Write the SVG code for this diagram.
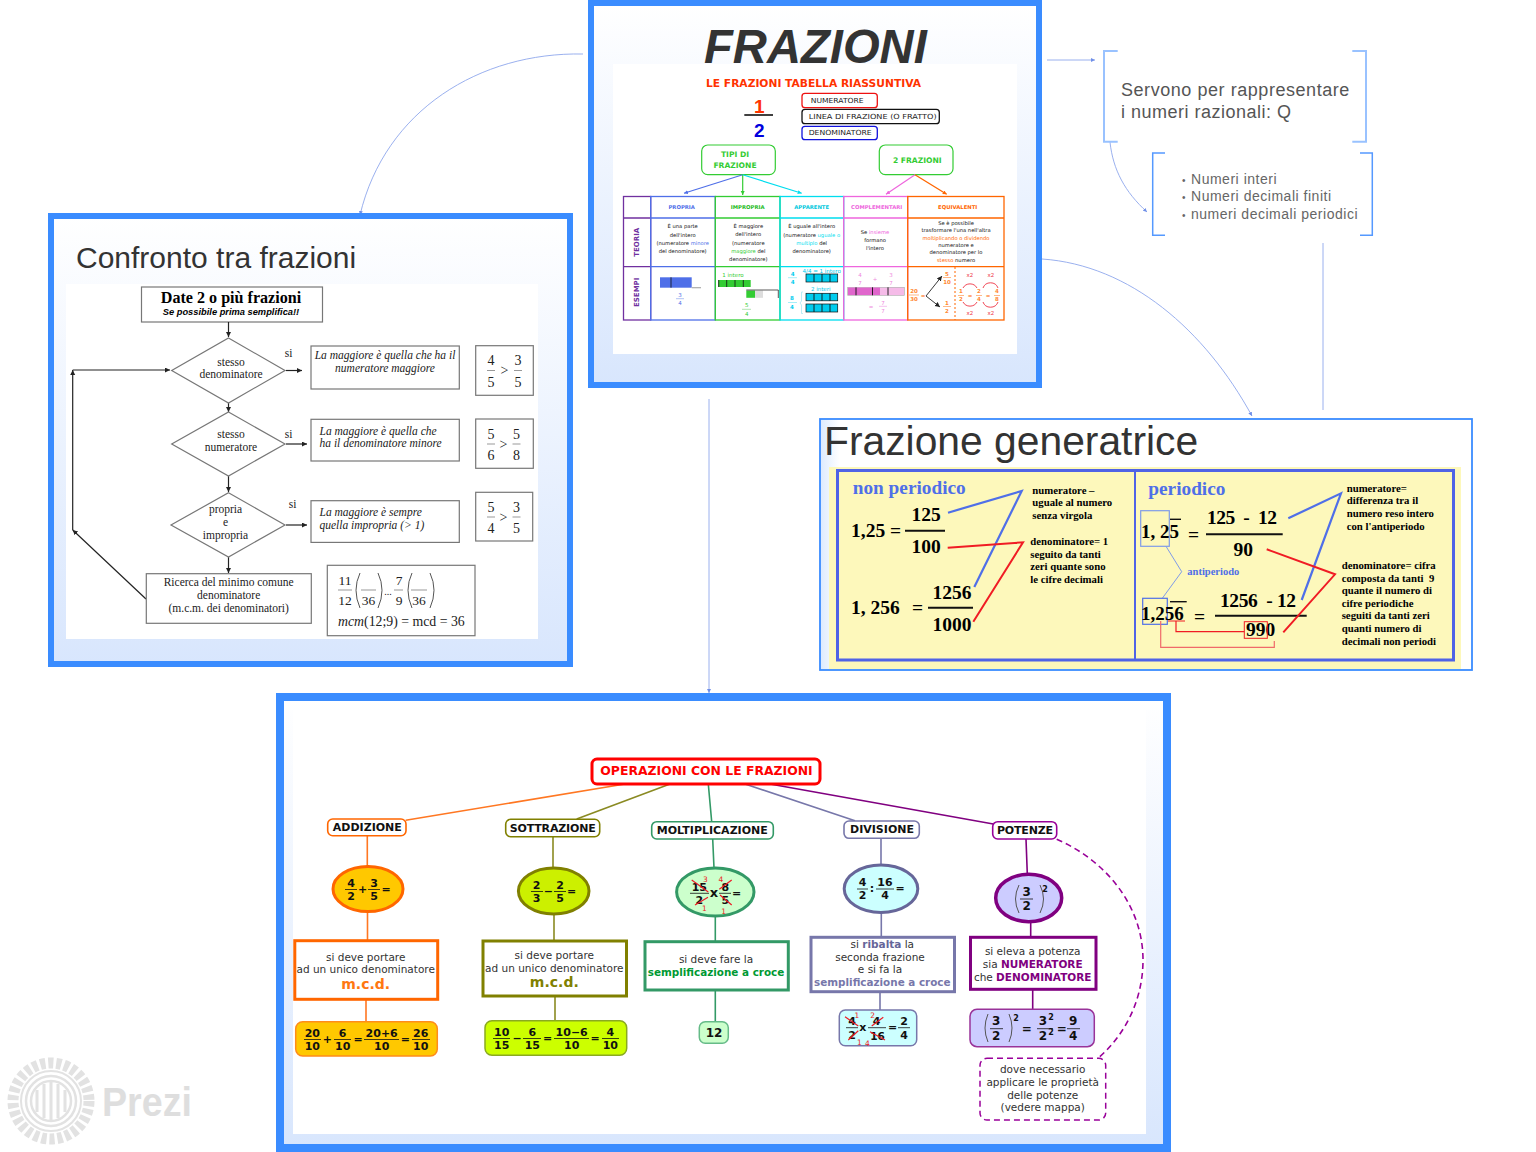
<svg xmlns="http://www.w3.org/2000/svg" width="1536" height="1152" viewBox="0 0 1536 1152">
<style>
text{font-family:"Liberation Sans",Arial,sans-serif;fill:#000}
.m{text-anchor:middle}
.frame{stroke:#3a8cff;stroke-width:6}
.s{font-family:"Liberation Serif","Times New Roman",serif}
.fc{font-family:"Liberation Serif","Times New Roman",serif;font-size:11.5px;fill:#222}
.fi{font-family:"Liberation Serif","Times New Roman",serif;font-size:11.5px;font-style:italic;fill:#222}
.fn{font-family:"Liberation Serif","Times New Roman",serif;font-size:14px;fill:#222;text-anchor:middle}
.box{fill:#fff;stroke:#777;stroke-width:1.2}
.fl{stroke:#222;stroke-width:1.2;fill:none}
.fr{stroke:#999;stroke-width:1;fill:none}
.gb{font-family:"Liberation Serif","Times New Roman",serif;font-weight:bold;font-size:19.5px}
.gc{font-family:"Liberation Serif","Times New Roman",serif;font-weight:bold;font-size:10.75px}
.gt{font-family:"Liberation Serif","Times New Roman",serif;font-weight:bold;fill:#4f6fe8}
.bl{stroke:#4f6fe8;stroke-width:2.2;fill:none}
.rd{stroke:#f01c24;stroke-width:2;fill:none}
.cm{font-family:"DejaVu Sans",Verdana,sans-serif;font-size:10.5px;fill:#333;text-anchor:middle}
.cb{font-family:"DejaVu Sans",Verdana,sans-serif;font-size:11px;font-weight:bold;fill:#111;text-anchor:middle}
.sm{font-size:10.4px}
.nt{font-family:"DejaVu Sans",Verdana,sans-serif;font-size:12.4px;font-weight:bold;fill:#111;text-anchor:middle}
.cx{stroke:#ee1c25;stroke-width:1.2;fill:none}
.rn{font-family:"DejaVu Sans",Verdana,sans-serif;font-size:7.5px;fill:#ee1c25;text-anchor:middle}
.node{fill:#fff;stroke-width:1.6}
.big{fill:#fff;stroke-width:3}
.fb{stroke:#111;stroke-width:.8}
.pr{stroke:#555;stroke-width:1;fill:none}
.t{font-family:"DejaVu Sans",Verdana,sans-serif;font-size:5.2px;fill:#111;text-anchor:middle}
.h{font-family:"DejaVu Sans",Verdana,sans-serif;font-size:5.3px;font-weight:bold;text-anchor:middle}
.ln{font-family:"DejaVu Sans",Verdana,sans-serif;font-size:7px;fill:#222}
.gr{font-family:"DejaVu Sans",Verdana,sans-serif;font-size:7.6px;font-weight:bold;fill:#33cc33;text-anchor:middle}
.v{font-family:"DejaVu Sans",Verdana,sans-serif;font-size:7px;font-weight:bold;fill:#7030a0}
.e{font-family:"DejaVu Sans",Verdana,sans-serif;font-size:5.5px;text-anchor:middle}
.tb{stroke-width:1.3;fill:none}
.dv{stroke:#111;stroke-width:.9}
.con{fill:none;stroke:#8fa7ec;stroke-width:.9}
.mp{fill:none;stroke-width:1.6}
</style>
<defs>
<linearGradient id="fg" x1="0" y1="0" x2="0" y2="1"><stop offset="0" stop-color="#fff"/><stop offset="1" stop-color="#d8e6fd"/></linearGradient>
<linearGradient id="fg2" x1="0" y1="0" x2="1" y2="0"><stop offset="0" stop-color="#dceafe"/><stop offset=".03" stop-color="#fff"/></linearGradient>
<marker id="a" markerWidth="5" markerHeight="4" refX="4" refY="2" orient="auto" markerUnits="userSpaceOnUse"><path d="M0 0L4 2L0 4z" fill="#6f8fe8"/></marker>
<marker id="k" markerWidth="6" markerHeight="6" refX="5" refY="2.5" orient="auto" markerUnits="userSpaceOnUse"><path d="M0 0L5 2.5L0 5z" fill="#222"/></marker>
<marker id="tb" markerWidth="5" markerHeight="5" refX="4" refY="2" orient="auto" markerUnits="userSpaceOnUse"><path d="M0 0L4 2L0 4z" fill="#4f6fe8"/></marker>
<marker id="tg" markerWidth="5" markerHeight="5" refX="4" refY="2" orient="auto" markerUnits="userSpaceOnUse"><path d="M0 0L4 2L0 4z" fill="#33cc33"/></marker>
<marker id="tc" markerWidth="5" markerHeight="5" refX="4" refY="2" orient="auto" markerUnits="userSpaceOnUse"><path d="M0 0L4 2L0 4z" fill="#00ddee"/></marker>
<marker id="tp" markerWidth="5" markerHeight="5" refX="4" refY="2" orient="auto" markerUnits="userSpaceOnUse"><path d="M0 0L4 2L0 4z" fill="#ee66dd"/></marker>
<marker id="to" markerWidth="5" markerHeight="5" refX="4" refY="2" orient="auto" markerUnits="userSpaceOnUse"><path d="M0 0L4 2L0 4z" fill="#ff6600"/></marker>
</defs>
<rect width="1536" height="1152" fill="#fff"/>

<g id="prezi-logo">
<circle cx="51" cy="1101" r="38" fill="none" stroke="#e2e2e2" stroke-width="11" stroke-dasharray="5.2 2.8"/>
<circle cx="51" cy="1101" r="30" fill="none" stroke="#e2e2e2" stroke-width="2"/>
<circle cx="51" cy="1101" r="25" fill="none" stroke="#e2e2e2" stroke-width="2.5"/>
<circle cx="51" cy="1101" r="20" fill="none" stroke="#e2e2e2" stroke-width="2.5"/>
<path d="M37 1090V1112M44 1084V1118M51 1082V1120M58 1084V1118M65 1090V1112" stroke="#e2e2e2" stroke-width="3" fill="none"/>
<text x="102" y="1115.5" font-size="41" font-weight="bold" style="fill:#dedede" textLength="90" lengthAdjust="spacingAndGlyphs">Prezi</text>
</g>

<g id="connectors">
<path class="con" d="M583 54C480 52 385 110 360 215" marker-end="url(#a)"/>
<path class="con" d="M1047 60H1095" marker-end="url(#a)"/>
<path class="con" d="M1110 142C1113 170 1125 192 1147 212" marker-end="url(#a)"/>
<path class="con" d="M1323 243V410"/>
<path class="con" d="M1042 259C1130 265 1205 330 1252 416" marker-end="url(#a)"/>
<path class="con" d="M788 361H711" marker-end="url(#a)"/>
<path class="con" d="M709 399V693" marker-end="url(#a)"/>
</g>

<g id="frazioni">
<rect class="frame" x="591" y="3" width="448" height="382" fill="url(#fg)"/>
<rect x="613" y="64" width="404" height="290" fill="#fff"/>
<text x="704" y="63" font-size="47.2" font-weight="bold" font-style="italic" style="fill:#333">FRAZIONI</text>
<text x="706" y="87.3" font-size="10.3" font-weight="bold" style="font-family:'DejaVu Sans',sans-serif;fill:#ff3300" textLength="215" lengthAdjust="spacingAndGlyphs">LE FRAZIONI TABELLA RIASSUNTIVA</text>
<text class="m" x="759.3" y="113" font-size="19" font-weight="bold" style="fill:#ff3300">1</text>
<path d="M744.3 115H773" stroke="#111" stroke-width="1.6"/>
<text class="m" x="759.3" y="137" font-size="19" font-weight="bold" style="fill:#0000dd">2</text>
<rect x="802" y="93.3" width="75.3" height="14.4" rx="3" fill="#fff" stroke="#ee1111" stroke-width="1.3"/>
<text class="ln" x="810.7" y="102.9" textLength="53" lengthAdjust="spacingAndGlyphs">NUMERATORE</text>
<rect x="802" y="109.3" width="137.3" height="14.4" rx="3" fill="#fff" stroke="#111" stroke-width="1.3"/>
<text class="ln" x="808.7" y="119" textLength="128" lengthAdjust="spacingAndGlyphs">LINEA DI FRAZIONE (O FRATTO)</text>
<rect x="802" y="126.3" width="75.3" height="13.4" rx="3" fill="#fff" stroke="#1111dd" stroke-width="1.3"/>
<text class="ln" x="808.7" y="135.2" textLength="63" lengthAdjust="spacingAndGlyphs">DENOMINATORE</text>
<rect x="701.7" y="145" width="73.6" height="29.7" rx="6" fill="#fff" stroke="#33cc33" stroke-width="1.2"/>
<text class="gr" x="735" y="157">TIPI DI</text>
<text class="gr" x="735" y="167.5">FRAZIONE</text>
<rect x="879.3" y="145" width="73.7" height="29.7" rx="6" fill="#fff" stroke="#33cc33" stroke-width="1.2"/>
<text class="gr" x="917.3" y="163">2 FRAZIONI</text>
<g fill="none" stroke-width="1.2">
<path d="M742.7 174.7L684 193.3" stroke="#4f6fe8" marker-end="url(#tb)"/>
<path d="M742.7 174.7V195" stroke="#33cc33" marker-end="url(#tg)"/>
<path d="M742.7 174.7L801.7 193.3" stroke="#00ddee" marker-end="url(#tc)"/>
<path d="M915 174.7L886 194.3" stroke="#ee66dd" marker-end="url(#tp)"/>
<path d="M915 174.7L946.7 194.3" stroke="#ff6600" marker-end="url(#to)"/>
</g>
<g class="tb">
<rect class="tb" x="623.5" y="196.5" width="27.2" height="123.5" stroke="#7030a0"/>
<path class="tb" d="M623.5 218H650.7M623.5 266.7H650.7" stroke="#7030a0"/>
<rect class="tb" x="650.7" y="196.5" width="64.6" height="123.5" stroke="#4f6fe8"/>
<path class="tb" d="M650.7 218H715.3M650.7 266.7H715.3" stroke="#4f6fe8"/>
<rect class="tb" x="715.3" y="196.5" width="64.7" height="123.5" stroke="#33cc33"/>
<path class="tb" d="M715.3 218H780M715.3 266.7H780" stroke="#33cc33"/>
<rect class="tb" x="780" y="196.5" width="63.7" height="123.5" stroke="#00ddee"/>
<path class="tb" d="M780 218H843.7M780 266.7H843.7" stroke="#00ddee"/>
<rect class="tb" x="843.7" y="196.5" width="64" height="123.5" stroke="#ee66dd"/>
<path class="tb" d="M843.7 218H907.7M843.7 266.7H907.7" stroke="#ee66dd"/>
<rect class="tb" x="907.7" y="196.5" width="96.3" height="123.5" stroke="#ff6600"/>
<path class="tb" d="M907.7 218H1004M907.7 266.7H1004" stroke="#ff6600"/>
</g>
<text class="h" x="681.7" y="209" style="fill:#4f6fe8">PROPRIA</text>
<text class="h" x="747.7" y="209" style="fill:#22bb22">IMPROPRIA</text>
<text class="h" x="811.7" y="209" style="fill:#00c8dd">APPARENTE</text>
<text class="h" x="876.7" y="209" style="fill:#ee66dd">COMPLEMENTARI</text>
<text class="h" x="957.7" y="209" style="fill:#ff6600">EQUIVALENTI</text>
<text class="v m" transform="translate(639 242.3) rotate(-90)">TEORIA</text>
<text class="v m" transform="translate(639 292.3) rotate(-90)">ESEMPI</text>
<text class="t" x="682.7" y="228">È una parte</text>
<text class="t" x="682.7" y="236.5">dell'intero</text>
<text class="t" x="682.7" y="245">(numeratore <tspan style="fill:#4f6fe8">minore</tspan></text>
<text class="t" x="682.7" y="252.5">del denominatore)</text>
<text class="t" x="748.3" y="228">È maggiore</text>
<text class="t" x="748.3" y="236">dell'intero</text>
<text class="t" x="748.3" y="245">(numeratore</text>
<text class="t" x="748.3" y="253"><tspan style="fill:#33cc33">maggiore</tspan> del</text>
<text class="t" x="748.3" y="260.5">denominatore)</text>
<text class="t" x="811.7" y="228">È uguale all'intero</text>
<text class="t" x="811.7" y="236.5">(numeratore <tspan style="fill:#00ddee">uguale o</tspan></text>
<text class="t" x="811.7" y="244.5"><tspan style="fill:#00ddee">multiplo</tspan> del</text>
<text class="t" x="811.7" y="252.5">denominatore)</text>
<text class="t" x="875" y="233.5">Se <tspan style="fill:#ee66dd">insieme</tspan></text>
<text class="t" x="875" y="241.5">formano</text>
<text class="t" x="875" y="249.5">l'intero</text>
<text class="t" x="956" y="225">Se è possibile</text>
<text class="t" x="956" y="232.3">trasformare l'una nell'altra</text>
<text class="t" x="956" y="240"><tspan style="fill:#ff6600">moltiplicando o dividendo</tspan></text>
<text class="t" x="956" y="246.7">numeratore e</text>
<text class="t" x="956" y="254.3">denominatore per lo</text>
<text class="t" x="956" y="261.7"><tspan style="fill:#ff6600">stesso</tspan> numero</text>

<rect x="660" y="277.3" width="31.7" height="10.4" fill="#4f6fe8"/>
<path d="M671 277.3V287.7" stroke="#111" stroke-width=".8"/>
<path d="M691.7 287.7H701" stroke="#aaa" stroke-width="1.2"/>
<text class="e" x="680" y="297" style="fill:#4f6fe8">3</text>
<path d="M676 298.7H684" stroke="#8fa8ee" stroke-width=".7"/>
<text class="e" x="680" y="305" style="fill:#4f6fe8">4</text>

<text class="e" x="733" y="276.7" style="fill:#33cc33">1 intero</text>
<rect x="718.3" y="280" width="32.4" height="7" fill="#33cc33"/>
<path d="M718.7 280V287M726.7 280V287M735 280V287M743.3 280V287" stroke="#111" stroke-width=".8"/>
<rect x="746.3" y="290.5" width="8.7" height="7.3" fill="#33cc33"/>
<rect x="755" y="290.5" width="8" height="7.3" fill="#ddd"/>
<path d="M746.3 290H778.3V298" stroke="#111" stroke-width=".7" fill="none"/>
<text class="e" x="746.7" y="307.3" style="fill:#33cc33">5</text>
<path d="M742 309.3H751" stroke="#8fd98f" stroke-width=".7"/>
<text class="e" x="746.7" y="315.5" style="fill:#33cc33">4</text>

<text class="e" x="792.7" y="276" style="fill:#00ccee;font-weight:bold">4</text>
<path d="M788 277.7H797" stroke="#7fe6f5" stroke-width=".7"/>
<text class="e" x="792.7" y="284" style="fill:#00ccee;font-weight:bold">4</text>
<text class="e" x="821.7" y="272.7" style="fill:#00ccee">4/4 = 1 intero</text>
<rect x="806" y="274" width="31.7" height="8" fill="#00ccee" stroke="#111" stroke-width=".7"/>
<path class="dv" d="M814 274V282M822 274V282M830 274V282"/>
<text class="e" x="820.7" y="291" style="fill:#00ccee">2 interi</text>
<rect x="806" y="293.3" width="31.7" height="7.5" fill="#00ccee" stroke="#111" stroke-width=".7"/>
<path class="dv" d="M814 293.3V300.8M822 293.3V300.8M830 293.3V300.8"/>
<rect x="806" y="304" width="31.7" height="8" fill="#00ccee" stroke="#111" stroke-width=".7"/>
<path class="dv" d="M814 304V312M822 304V312M830 304V312"/>
<text class="e" x="792" y="300" style="fill:#00ccee;font-weight:bold">8</text>
<path d="M788 302.5H797" stroke="#7fe6f5" stroke-width=".7"/>
<text class="e" x="792" y="308.5" style="fill:#00ccee;font-weight:bold">4</text>
<path d="M803 292H801.5V301L800 303L801.5 305V313.5H803" fill="none" stroke="#a8e8f4" stroke-width=".8"/>

<text class="e" x="860" y="277" style="fill:#ee88dd">4</text>
<text class="e" x="860" y="285" style="fill:#ee88dd">7</text>
<text class="e" x="875" y="281" style="fill:#ee88dd">+</text>
<text class="e" x="891" y="277" style="fill:#ee88dd">3</text>
<text class="e" x="891" y="285" style="fill:#ee88dd">7</text>
<rect x="847.7" y="287.3" width="56.6" height="8" fill="#f5bbe8" stroke="#aaa" stroke-width=".6"/>
<rect x="848" y="287.6" width="32" height="7.4" fill="#e066cc"/>
<path class="dv" d="M856 287.3V295.3M872.5 287.3V295.3M888 287.3V295.3"/>
<text class="e" x="871" y="309" style="fill:#ee88dd">=</text>
<text class="e" x="883" y="305" style="fill:#ee88dd">7</text>
<path d="M879 306.3H887" stroke="#f0a8e8" stroke-width=".7"/>
<text class="e" x="883" y="312.5" style="fill:#ee88dd">7</text>

<text class="e" x="914" y="293" style="fill:#ff8833;font-weight:bold">20</text>
<path d="M909 295H919" stroke="#ff9955" stroke-width=".7"/>
<text class="e" x="914" y="301" style="fill:#ff8833;font-weight:bold">30</text>
<text class="e" x="923" y="298" style="fill:#ff6600">=</text>
<path d="M926 296L942 276" stroke="#222" stroke-width=".9" fill="none" marker-end="url(#k)"/>
<path d="M926 296L940 307" stroke="#222" stroke-width=".9" fill="none" marker-end="url(#k)"/>
<text class="e" x="947" y="276" style="fill:#ff8833;font-weight:bold">5</text>
<path d="M943 277.5H951" stroke="#ff9955" stroke-width=".7"/>
<text class="e" x="947" y="284" style="fill:#ff8833;font-weight:bold">10</text>
<text class="e" x="947" y="305" style="fill:#ff8833;font-weight:bold">1</text>
<path d="M943 306.5H951" stroke="#ff9955" stroke-width=".7"/>
<text class="e" x="947" y="313" style="fill:#ff8833;font-weight:bold">2</text>
<path d="M955 267V320" stroke="#ff6600" stroke-width="1" stroke-dasharray="2 2" fill="none"/>
<text class="e" x="961" y="293" style="fill:#ff8833;font-weight:bold">1</text>
<path d="M958 295.5H964" stroke="#ff9955" stroke-width=".7"/>
<text class="e" x="961" y="301" style="fill:#ff8833;font-weight:bold">2</text>
<text class="e" x="970" y="298" style="fill:#ff6600">=</text>
<text class="e" x="979" y="293" style="fill:#ff8833;font-weight:bold">2</text>
<path d="M976 295.5H982" stroke="#ff9955" stroke-width=".7"/>
<text class="e" x="979" y="301" style="fill:#ff8833;font-weight:bold">4</text>
<text class="e" x="988" y="298" style="fill:#ff6600">=</text>
<text class="e" x="997" y="293" style="fill:#ff8833;font-weight:bold">4</text>
<path d="M994 295.5H1000" stroke="#ff9955" stroke-width=".7"/>
<text class="e" x="997" y="301" style="fill:#ff8833;font-weight:bold">8</text>
<text class="e" x="970" y="277" style="fill:#ee3344">x2</text>
<text class="e" x="991" y="277" style="fill:#ee3344">x2</text>
<text class="e" x="970" y="315" style="fill:#ee3344">x2</text>
<text class="e" x="991" y="315" style="fill:#ee3344">x2</text>
<path d="M963 288A8 8 0 0 1 977 288M983 288A8 8 0 0 1 998 288M963 302A8 8 0 0 0 977 302M983 302A8 8 0 0 0 998 302" fill="none" stroke="#ee3344" stroke-width=".9"/>
</g>

<g id="servono">
<path d="M1117.7 51H1104V141.7H1117.7M1352.3 51H1366V141.7H1352.3" fill="none" stroke="#99c2ff" stroke-width="2"/>
<text x="1121" y="96.2" font-size="18" letter-spacing=".55" style="fill:#555">Servono per rappresentare</text>
<text x="1121" y="118" font-size="18" letter-spacing=".5" style="fill:#555">i numeri razionali: Q</text>
</g>
<g id="numeri">
<path d="M1165 153H1152.7V235.3H1165M1360 153H1372.3V235.3H1360" fill="none" stroke="#5599ff" stroke-width="1.5"/>
<g font-size="14" letter-spacing=".52">
<text x="1182" y="184" font-size="10" style="fill:#666">•</text><text x="1191" y="184" style="fill:#666">Numeri interi</text>
<text x="1182" y="201.3" font-size="10" style="fill:#666">•</text><text x="1191" y="201.3" style="fill:#666">Numeri decimali finiti</text>
<text x="1182" y="219" font-size="10" style="fill:#666">•</text><text x="1191" y="219" style="fill:#666">numeri decimali periodici</text>
</g>
</g>

<g id="confronto">
<rect class="frame" x="51" y="216" width="519" height="448" fill="url(#fg)"/>
<rect x="66" y="284" width="472" height="355" fill="#fff"/>
<text x="76" y="268" font-size="30" style="fill:#333">Confronto tra frazioni</text>
<rect class="box" x="141.5" y="287" width="181" height="35"/>
<text class="m s" x="231" y="303" font-size="16.1" font-weight="bold">Date 2 o più frazioni</text>
<text class="m" x="231" y="315" font-size="9.3" font-weight="bold" font-style="italic">Se possibile prima semplifica!!</text>
<g class="fl">
<path class="fl" d="M228.5 322V337" marker-end="url(#k)"/>
<path class="fl" d="M228.5 403V412" marker-end="url(#k)"/>
<path class="fl" d="M228.5 476V492" marker-end="url(#k)"/>
<path class="fl" d="M228.5 557V573" marker-end="url(#k)"/>
<path class="fl" d="M286 370.5H302" marker-end="url(#k)"/>
<path class="fl" d="M286 444H307" marker-end="url(#k)"/>
<path class="fl" d="M286 525H307" marker-end="url(#k)"/>
<path class="fl" d="M146 599L72.7 530" marker-end="url(#k)"/>
<path class="fl" d="M72.7 530V370" marker-end="url(#k)"/>
<path class="fl" d="M72.7 370H170" marker-end="url(#k)"/>
</g>
<path class="box" d="M228.5 338L285 370.5L228.5 403L171.7 370.5Z"/>
<path class="box" d="M228.5 412L285 444L228.5 476L171.7 444Z"/>
<path class="box" d="M228.5 492.7L285 525L228.5 557L171 525Z"/>
<text class="fc m" x="231" y="365.5">stesso</text>
<text class="fc m" x="231" y="378">denominatore</text>
<text class="fc m" x="231" y="438">stesso</text>
<text class="fc m" x="231" y="451">numeratore</text>
<text class="fc m" x="225.5" y="512.5">propria</text>
<text class="fc m" x="225.5" y="525.5">e</text>
<text class="fc m" x="225.5" y="538.5">impropria</text>
<text class="fc m" x="288.5" y="357">si</text>
<text class="fc m" x="288.5" y="438">si</text>
<text class="fc m" x="292.5" y="508">si</text>
<rect class="box" x="311" y="346" width="148.3" height="43"/>
<text class="fi m" x="385" y="358.5">La maggiore è quella che ha il</text>
<text class="fi m" x="385" y="371.5">numeratore maggiore</text>
<rect class="box" x="311" y="419.3" width="148.3" height="41.7"/>
<text class="fi" x="319.5" y="434.5">La maggiore è quella che</text>
<text class="fi" x="319.5" y="447">ha il denominatore minore</text>
<rect class="box" x="311" y="500.7" width="148.3" height="41.7"/>
<text class="fi" x="319.5" y="516">La maggiore è sempre</text>
<text class="fi" x="319.5" y="528.5">quella impropria (&gt; 1)</text>
<rect class="box" x="475.7" y="345.7" width="57.6" height="49.6"/>
<text class="fn" x="491" y="365">4</text><text class="fn" x="491" y="386.5">5</text><text class="fn" x="504.5" y="375">&gt;</text><text class="fn" x="518" y="365">3</text><text class="fn" x="518" y="386.5">5</text>
<path class="fr" d="M487 370.5H495M514 370.5H522"/>
<rect class="box" x="475.7" y="419" width="57.6" height="49.3"/>
<text class="fn" x="491" y="438.5">5</text><text class="fn" x="491" y="460">6</text><text class="fn" x="503.5" y="449">&gt;</text><text class="fn" x="516.5" y="438.5">5</text><text class="fn" x="516.5" y="460">8</text>
<path class="fr" d="M487 444H495M512.5 444H520.5"/>
<rect class="box" x="475.7" y="492.3" width="57" height="48.7"/>
<text class="fn" x="491" y="512">5</text><text class="fn" x="491" y="532.5">4</text><text class="fn" x="503.5" y="522">&gt;</text><text class="fn" x="516.5" y="512">3</text><text class="fn" x="516.5" y="532.5">5</text>
<path class="fr" d="M487 517H495M512.5 517H520.5"/>
<rect class="box" x="146.3" y="573.7" width="165" height="49.6"/>
<text class="fc m" x="228.7" y="586">Ricerca del minimo comune</text>
<text class="fc m" x="228.7" y="599">denominatore</text>
<text class="fc m" x="228.7" y="612">(m.c.m. dei denominatori)</text>
<rect class="box" x="327.3" y="565.3" width="147.7" height="70.4"/>
<text class="fn" x="345" y="585" style="font-size:13.5px">11</text><text class="fn" x="345" y="605" style="font-size:13.5px">12</text>
<path class="fr" d="M338 590H352M361 590H376M411 590H427M394 590H403"/>
<text class="fn" x="368.5" y="605" style="font-size:13.5px">36</text>
<text class="fn" x="388" y="595" style="font-size:10px">...</text>
<text class="fn" x="399" y="585" style="font-size:13.5px">7</text><text class="fn" x="399" y="605" style="font-size:13.5px">9</text>
<text class="fn" x="419" y="605" style="font-size:13.5px">36</text>
<path class="pr" d="M360 573Q352 590 360 608M378 573Q386 590 378 608M412 573Q404 590 412 608M430 573Q438 590 430 608"/>
<text class="s" x="338" y="625.5" font-size="13.8" style="fill:#222"><tspan font-style="italic">mcm</tspan>(12;9) = mcd = 36</text>
</g>

<g id="generatrice">
<rect x="820" y="419" width="652" height="251" fill="url(#fg2)" stroke="#3a8cff" stroke-width="1.8"/>
<text x="824" y="455" font-size="40.8" style="fill:#333">Frazione generatrice</text>
<rect x="829" y="467" width="632" height="202" fill="#fdf8bb"/>
<rect x="837.5" y="470.5" width="616" height="189.5" fill="none" stroke="#4f63e6" stroke-width="3"/>
<path d="M1135 470V660" stroke="#4f63e6" stroke-width="2"/>
<text class="gt" x="852.7" y="494" font-size="19.3">non periodico</text>
<text class="gb" x="851" y="537">1,25 =</text>
<text class="gb m" x="926" y="521">125</text>
<path d="M905 530.7H945" stroke="#111" stroke-width="2"/>
<text class="gb m" x="926" y="552.7">100</text>
<text class="gb" x="851" y="613.5">1, 256</text>
<text class="gb" x="912" y="613.5">=</text>
<text class="gb m" x="952" y="598.5">1256</text>
<path d="M928 607.7H973" stroke="#111" stroke-width="2"/>
<text class="gb m" x="952" y="630.5">1000</text>
<path class="bl" d="M948 512.7L1021.7 491L974.3 587"/>
<path class="rd" d="M947.7 547.7L1023 542.3L973.3 621.7"/>
<text class="gc" x="1032.3" y="493.5">numeratore –</text>
<text class="gc" x="1032.3" y="506">uguale al numero</text>
<text class="gc" x="1032.3" y="518.5">senza virgola</text>
<text class="gc" x="1030.3" y="545">denominatore= 1</text>
<text class="gc" x="1030.3" y="557.7">seguito da tanti</text>
<text class="gc" x="1030.3" y="570">zeri quante sono</text>
<text class="gc" x="1030.3" y="582.5">le cifre decimali</text>

<text class="gt" x="1148.3" y="494.5" font-size="19.3">periodico</text>
<rect x="1140.7" y="510.7" width="28.6" height="35.6" fill="none" stroke="#7f9be8" stroke-width="1.2"/>
<text class="gb" x="1141" y="537.5" style="font-size:19px">1, 25</text>
<path d="M1170 519.3H1181" stroke="#111" stroke-width="1.4"/>
<text class="gb" x="1188" y="541">=</text>
<text class="gb" x="1207" y="524" xml:space="preserve" textLength="70">125  -  12</text>
<path d="M1206 534.3H1282.7" stroke="#111" stroke-width="2"/>
<text class="gb m" x="1243.3" y="556">90</text>
<text class="gt" x="1187.3" y="574.5" font-size="10.5">antiperiodo</text>
<path d="M1166 546.3L1181.7 571.7L1162.3 598.3" fill="none" stroke="#7f9be8" stroke-width="1"/>
<rect x="1142.7" y="598.3" width="24.6" height="26" fill="none" stroke="#4f6fe8" stroke-width="1.2"/>
<text class="gb" x="1141" y="619.5" style="font-size:19px">1,256</text>
<path d="M1170 601.7H1186.7" stroke="#111" stroke-width="1.4"/>
<text class="gb" x="1194" y="622.5">=</text>
<text class="gb" x="1220" y="606.5" xml:space="preserve" textLength="76">1256  - 12</text>
<path d="M1215 615.7H1306.7" stroke="#111" stroke-width="2"/>
<text class="gb" x="1246" y="635.5">990</text>
<rect x="1244.3" y="621.7" width="23" height="16.6" fill="none" stroke="#f01c24" stroke-width="1"/>
<path d="M1168 621H1185M1176 621V631.7H1244.3" fill="none" stroke="#f01c24" stroke-width="1.2"/>
<path d="M1160.7 621V647.3H1274.3V641" fill="none" stroke="#f06a6a" stroke-width="1.2"/>
<path class="bl" d="M1288.3 518.3L1341 493.3L1301.7 600"/>
<path class="rd" d="M1266.7 549.3L1335 574.3L1283.3 632.3"/>
<text class="gc" x="1346.7" y="492">numeratore=</text>
<text class="gc" x="1346.7" y="504.3">differenza tra il</text>
<text class="gc" x="1346.7" y="517">numero reso intero</text>
<text class="gc" x="1346.7" y="529.5">con l'antiperiodo</text>
<text class="gc" x="1341.7" y="568.5">denominatore= cifra</text>
<text class="gc" x="1341.7" y="581.5" xml:space="preserve">composta da tanti  9</text>
<text class="gc" x="1341.7" y="594">quante il numero di</text>
<text class="gc" x="1341.7" y="606.7">cifre periodiche</text>
<text class="gc" x="1341.7" y="619.3">seguiti da tanti zeri</text>
<text class="gc" x="1341.7" y="632">quanti numero di</text>
<text class="gc" x="1341.7" y="645">decimali non periodi</text>
</g>

<g id="operazioni-frame">
<rect x="280" y="697" width="887" height="451" fill="url(#fg)" stroke="#3a8cff" stroke-width="8"/>
<rect x="293" y="710" width="853" height="424" fill="#fff"/>
</g>
<g id="map-connectors">
<path class="mp" d="M625 784L405.7 820.3M367.3 835.7V866M367.5 912V940.7M366 999V1021.7" stroke="#ff7722"/>
<path class="mp" d="M670 784L576.7 819M553 836.7V867M554 913V941M555 996V1020.7" stroke="#8a8a22"/>
<path class="mp" d="M708.3 784L711.7 821.7M712.7 839L714 868M715.3 916V941.7M715.3 990V1021.7" stroke="#339966"/>
<path class="mp" d="M745 784L855 820.7M881 838V865M881.3 912V937.3M880 991.7V1010" stroke="#7777aa"/>
<path class="mp" d="M770 784L993.3 824M1026 839L1027.3 874M1030.7 921.7V937.3M1032.7 989.3V1010" stroke="#800080"/>
<path class="mp" d="M1056.7 839.3C1105 860 1143 905 1143 960C1143 1000 1125 1035 1098 1058.3" stroke="#990099" stroke-dasharray="6 4"/>
</g>
<g id="root"><rect x="592" y="759" width="228" height="25" rx="5" fill="#fff" stroke="#ff0000" stroke-width="3"/><text class="nt" x="706.5" y="775.3" style="fill:#ff0000">OPERAZIONI CON LE FRAZIONI</text></g>

<g id="addizione">
<rect class="node" x="327.7" y="819" width="78.3" height="16.7" rx="5" stroke="#ff6600"/><text class="cb" x="367.3" y="831">ADDIZIONE</text>
<ellipse cx="368" cy="889" rx="35" ry="22.5" fill="#ffc800" stroke="#ff6600" stroke-width="3"/>
<text class="cb" x="351" y="886.5">4</text><text class="cb" x="351" y="899.5">2</text><path class="fb" d="M345 889.5H357"/>
<text class="cb" x="362.7" y="892.5">+</text>
<text class="cb" x="374" y="886.5">3</text><text class="cb" x="374" y="899.5">5</text><path class="fb" d="M368 889.5H380"/>
<text class="cb" x="386" y="892.5">=</text>
<rect class="big" x="294.8" y="940.7" width="142.9" height="58.6" stroke="#ff6600"/>
<text class="cm" x="365.7" y="960.5">si deve portare</text>
<text class="cm" x="365.7" y="973">ad un unico denominatore</text>
<text class="cb" x="365.7" y="988.5" style="font-size:14px;fill:#ff7711">m.c.d.</text>
<rect x="295.7" y="1021.7" width="141.6" height="34.3" rx="7" fill="#ffc800" stroke="#ff8c1a" stroke-width="1.5"/>
<text class="cb" x="312.3" y="1036.5">20</text><text class="cb" x="312.3" y="1049.5">10</text><path class="fb" d="M304 1039.5H321"/>
<text class="cb" x="327.3" y="1042.5">+</text>
<text class="cb" x="342.7" y="1036.5">6</text><text class="cb" x="342.7" y="1049.5">10</text><path class="fb" d="M334 1039.5H351"/>
<text class="cb" x="358" y="1042.5">=</text>
<text class="cb" x="381.7" y="1036.5">20+6</text><text class="cb" x="381.7" y="1049.5">10</text><path class="fb" d="M364 1039.5H399"/>
<text class="cb" x="405.3" y="1042.5">=</text>
<text class="cb" x="420.7" y="1036.5">26</text><text class="cb" x="420.7" y="1049.5">10</text><path class="fb" d="M412 1039.5H430"/>
</g>

<g id="sottrazione">
<rect class="node" x="505.7" y="819.3" width="94" height="17.4" rx="5" stroke="#808000"/><text class="cb" x="552.7" y="832" textLength="86">SOTTRAZIONE</text>
<ellipse cx="553.7" cy="891" rx="35.3" ry="23" fill="#ccf000" stroke="#808000" stroke-width="3"/>
<text class="cb" x="536.7" y="888.5">2</text><text class="cb" x="536.7" y="901.5">3</text><path class="fb" d="M531 891.5H543"/>
<text class="cb" x="548.3" y="894.5">−</text>
<text class="cb" x="560" y="888.5">2</text><text class="cb" x="560" y="901.5">5</text><path class="fb" d="M554 891.5H566"/>
<text class="cb" x="571.7" y="894.5">=</text>
<rect class="big" x="483" y="941" width="143.5" height="55" stroke="#808000"/>
<text class="cm" x="554.3" y="959">si deve portare</text>
<text class="cm" x="554.3" y="971.5">ad un unico denominatore</text>
<text class="cb" x="554.3" y="987" style="font-size:14px;fill:#808000">m.c.d.</text>
<rect x="485" y="1020.7" width="141.7" height="34.6" rx="7" fill="#ccff00" stroke="#8aaa20" stroke-width="1.5"/>
<text class="cb" x="501.7" y="1035.5">10</text><text class="cb" x="501.7" y="1048.5">15</text><path class="fb" d="M493 1038.5H510"/>
<text class="cb" x="517" y="1041.5">−</text>
<text class="cb" x="532.3" y="1035.5">6</text><text class="cb" x="532.3" y="1048.5">15</text><path class="fb" d="M523 1038.5H541"/>
<text class="cb" x="547.7" y="1041.5">=</text>
<text class="cb" x="571.7" y="1035.5">10−6</text><text class="cb" x="571.7" y="1048.5">10</text><path class="fb" d="M554 1038.5H589"/>
<text class="cb" x="595" y="1041.5">=</text>
<text class="cb" x="610.3" y="1035.5">4</text><text class="cb" x="610.3" y="1048.5">10</text><path class="fb" d="M602 1038.5H619"/>
</g>

<g id="moltiplicazione">
<rect class="node" x="651.7" y="821.7" width="121.6" height="17.3" rx="5" stroke="#339966"/><text class="cb" x="712.3" y="834">MOLTIPLICAZIONE</text>
<ellipse cx="715.3" cy="892" rx="38.7" ry="24" fill="#ccffcc" stroke="#339966" stroke-width="3"/>
<text class="cb" x="699.3" y="891">15</text><text class="cb" x="699.3" y="903.5">2</text><path class="fb" d="M690 893.3H709"/>
<text class="cb" x="714" y="896.5" style="font-size:13px">x</text>
<text class="cb" x="725.3" y="891">8</text><text class="cb" x="725.3" y="903.5">5</text><path class="fb" d="M719 893.3H731"/>
<text class="cb" x="736.7" y="896.5">=</text>
<path class="cx" d="M691.7 880L708.3 892M695 905L708 897.3M719.3 889.3L731.7 880M720 895L731.7 905"/>
<text class="rn" x="705.5" y="881.5">3</text><text class="rn" x="721" y="881.5">4</text><text class="rn" x="704.3" y="911">1</text><text class="rn" x="723.7" y="913.5">1</text>
<rect class="big" x="645" y="941.7" width="143.3" height="48.3" stroke="#339966"/>
<text class="cm" x="716" y="962.5">si deve fare la</text>
<text class="cb sm" x="716" y="975.5" style="fill:#009933">semplificazione a croce</text>
<rect x="699.3" y="1021.7" width="29" height="21.6" rx="6" fill="#ccffcc" stroke="#66bb88" stroke-width="1.5"/>
<text class="cb" x="714" y="1036.7" style="font-size:12px">12</text>
</g>

<g id="divisione">
<rect class="node" x="844" y="821" width="75.3" height="17.3" rx="5" stroke="#7777aa"/><text class="cb" x="882" y="833.3">DIVISIONE</text>
<ellipse cx="881" cy="888.7" rx="36.8" ry="23.7" fill="#ccffff" stroke="#666699" stroke-width="3"/>
<text class="cb" x="862.7" y="886">4</text><text class="cb" x="862.7" y="899">2</text><path class="fb" d="M857 889H868"/>
<text class="cb" x="872" y="892">:</text>
<text class="cb" x="885" y="886">16</text><text class="cb" x="885" y="899">4</text><path class="fb" d="M876 889H894"/>
<text class="cb" x="900" y="892">=</text>
<rect class="big" x="811" y="937.3" width="143.5" height="54.4" stroke="#7777aa"/>
<text class="cm" x="882.3" y="948">si <tspan style="font-weight:bold;fill:#666699">ribalta</tspan> la</text>
<text class="cm" x="880" y="960.7">seconda frazione</text>
<text class="cm" x="880" y="973.3">e si fa la</text>
<text class="cb sm" x="882.3" y="986" style="fill:#7777aa">semplificazione a croce</text>
<rect x="839.3" y="1010" width="77.4" height="35.7" rx="6" fill="#ccffff" stroke="#7777aa" stroke-width="1.5"/>
<text class="cb" x="852" y="1025">4</text><text class="cb" x="852" y="1039">2</text><path class="fb" d="M846 1027.7H858"/>
<text class="cb" x="862.7" y="1031">x</text>
<text class="cb" x="876.7" y="1025">4</text><text class="cb" x="877.5" y="1039.5" style="font-size:10.5px">16</text><path class="fb" d="M868 1027.7H886"/>
<text class="cb" x="892.7" y="1031">=</text>
<text class="cb" x="904" y="1025">2</text><text class="cb" x="904" y="1039">4</text><path class="fb" d="M898 1027.7H910"/>
<path class="cx" d="M845 1016.7L858.3 1026M848.3 1040L858.3 1030.7M871.7 1026L883.3 1017.3M870 1031.7L885 1040"/>
<text class="rn" x="857" y="1018">1</text><text class="rn" x="872.7" y="1017.5">2</text><text class="rn" x="859.5" y="1044.8">1</text><text class="rn" x="867.5" y="1045.5">4</text>
</g>

<g id="potenze">
<rect class="node" x="992.7" y="821.7" width="64" height="17.3" rx="5" stroke="#990099"/><text class="cb" x="1025" y="834" textLength="56">POTENZE</text>
<ellipse cx="1028.7" cy="898" rx="33" ry="23.7" fill="#ccccff" stroke="#800080" stroke-width="3.5"/>
<text class="cb" x="1026.7" y="896" style="font-size:12px">3</text><text class="cb" x="1026.7" y="910" style="font-size:12px">2</text><path class="fb" d="M1020 899H1033"/>
<path class="pr" d="M1019 885Q1012 899 1019 913M1040 885Q1047 899 1040 913"/>
<text class="cb" x="1045" y="892" style="font-size:8px">2</text>
<rect class="big" x="970.5" y="937.3" width="125.5" height="52" stroke="#800080"/>
<text class="cm" x="1032.7" y="955">si eleva a potenza</text>
<text class="cm" x="1032.7" y="967.7">sia <tspan style="font-weight:bold;fill:#800080">NUMERATORE</tspan></text>
<text class="cm" x="1032.7" y="980.5">che <tspan style="font-weight:bold;fill:#800080">DENOMINATORE</tspan></text>
<rect x="970" y="1009.3" width="124.3" height="37.4" rx="7" fill="#ccccff" stroke="#993399" stroke-width="1.5"/>
<text class="cb" x="996.3" y="1025" style="font-size:12px">3</text><text class="cb" x="996.3" y="1039.5" style="font-size:12px">2</text><path class="fb" d="M990 1028.7H1003"/>
<path class="pr" d="M988 1014Q982 1028 988 1042M1009 1014Q1015 1028 1009 1042"/>
<text class="cb" x="1016" y="1021" style="font-size:8px">2</text>
<text class="cb" x="1026.7" y="1032.5" style="font-size:12px">=</text>
<text class="cb" x="1043" y="1025" style="font-size:12px">3</text><text class="cb" x="1043" y="1039.5" style="font-size:12px">2</text><path class="fb" d="M1037 1028.7H1053"/>
<text class="cb" x="1051" y="1020" style="font-size:8px">2</text><text class="cb" x="1051" y="1034.5" style="font-size:8px">2</text>
<text class="cb" x="1061.7" y="1032.5" style="font-size:12px">=</text>
<text class="cb" x="1073.3" y="1025" style="font-size:12px">9</text><text class="cb" x="1073.3" y="1039.5" style="font-size:12px">4</text><path class="fb" d="M1067 1028.7H1080"/>
</g>
<g id="nota">
<rect x="980" y="1058.3" width="125.7" height="61.7" rx="7" fill="#fff" stroke="#990099" stroke-width="1.5" stroke-dasharray="6 4"/>
<text class="cm" x="1042.7" y="1073">dove necessario</text>
<text class="cm" x="1042.7" y="1086">applicare le proprietà</text>
<text class="cm" x="1042.7" y="1098.5">delle potenze</text>
<text class="cm" x="1042.7" y="1111">(vedere mappa)</text>
</g>
</svg>
